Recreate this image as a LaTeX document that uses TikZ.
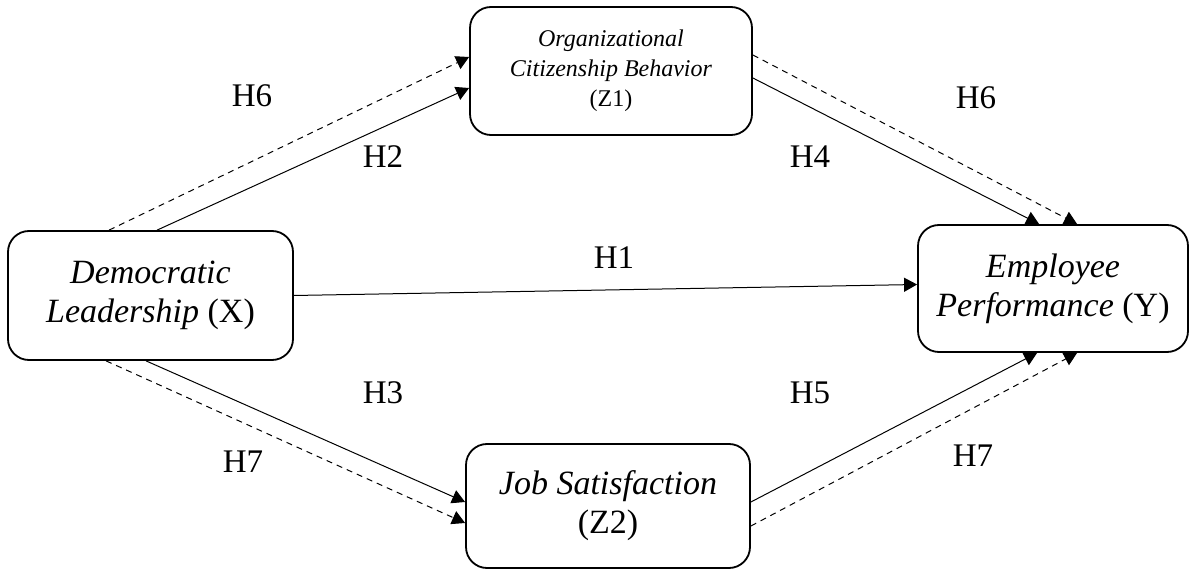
\documentclass[tikz,border=0pt]{standalone}
\usepackage{fontspec}
\setmainfont{Liberation Serif}
\usetikzlibrary{arrows.meta}
\begin{document}
\begin{tikzpicture}[x=1pt,y=-1pt,
    box/.style={draw,line width=1.8pt,rounded corners=21pt,align=center,inner sep=0pt,font=\fontsize{34}{39}\selectfont},
    link/.style={line width=1pt,-{Triangle[length=13pt,width=14pt]}},
    hyp/.style={font=\fontsize{33}{39}\selectfont}]
    \useasboundingbox (0,0) rectangle (1195,569);
    % variables
    \node[box,minimum width=285pt,minimum height=129pt](X) at (150.5,295.5){\textit{Democratic}\\\textit{Leadership} (X)};
    \node[box,minimum width=282pt,minimum height=128pt,font=\fontsize{24}{30}\selectfont](Z1) at (611,71){\textit{Organizational}\\\textit{Citizenship Behavior}\\(Z1)};
    \node[box,minimum width=270pt,minimum height=127pt](Y) at (1053,288.5){\textit{Employee}\\\textit{Performance} (Y)};
    \node[box,minimum width=284pt,minimum height=124pt](Z2) at (608,506){\textit{Job Satisfaction}\\(Z2)};
    % paths
    \draw[link,dashed,dash pattern=on 6pt off 5pt]([xshift=102pt]X.north west)--([yshift=14pt]Z1.west);
    \draw[link]([xshift=150pt]X.north west)--([yshift=-17pt]Z1.west);
    \draw[link,dashed,dash pattern=on 6pt off 5pt]([yshift=16pt]Z1.east)--([xshift=160pt]Y.north west);
    \draw[link]([yshift=-7pt]Z1.east)--([xshift=122pt]Y.north west);
    \draw[link]([yshift=0pt]X.east)--([yshift=4pt]Y.west);
    \draw[link]([xshift=139pt]X.south west)--([yshift=4pt]Z2.west);
    \draw[link,dashed,dash pattern=on 6pt off 5pt]([xshift=99pt]X.south west)--([yshift=-17pt]Z2.west);
    \draw[link]([yshift=4pt]Z2.east)--([xshift=120pt]Y.south west);
    \draw[link,dashed,dash pattern=on 6pt off 5pt]([yshift=-20pt]Z2.east)--([xshift=160pt]Y.south west);
    % hypotheses
    \node[hyp](h6a) at (252,96){H6};
    \node[hyp](h2) at (383,157){H2};
    \node[hyp](h4) at (810,157){H4};
    \node[hyp](h6b) at (976,98){H6};
    \node[hyp](h1) at (614,258){H1};
    \node[hyp](h3) at (383,393){H3};
    \node[hyp](h5) at (810,393){H5};
    \node[hyp](h7a) at (243,462){H7};
    \node[hyp](h7b) at (973,456){H7};
\end{tikzpicture}
\end{document}
